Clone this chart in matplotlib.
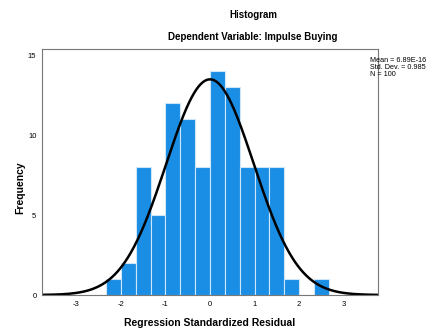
import numpy as np
import matplotlib.pyplot as plt

plt.rcParams['font.family'] = ['Liberation Sans', 'DejaVu Sans']
plt.rcParams['axes.unicode_minus'] = False

# histogram of regression standardized residuals
bin_edges = [-2.333, -2.0, -1.667, -1.333, -1.0, -0.667, -0.333, 0.0,
             0.333, 0.667, 1.0, 1.333, 1.667, 2.0, 2.333, 2.667]
counts = [1, 2, 8, 5, 12, 11, 8, 14, 13, 8, 8, 8, 1, 0, 1]
mean = 6.89e-16
sd = 0.985
n = 100

fig = plt.figure(figsize=(4.35, 3.29), dpi=100)
ax = fig.add_axes([42/435, 1 - 295/329, 336/435, (295-49)/329])

lefts = np.array(bin_edges[:-1])
widths = np.diff(bin_edges)
ax.bar(lefts, counts, width=widths, align='edge', color='#1a8ee4',
       edgecolor='#cfe6f8', linewidth=0.8)

bw = widths.mean()
xs = np.linspace(-3.8, 3.8, 400)
ys = n * bw * np.exp(-0.5 * ((xs - mean) / sd) ** 2) / (sd * np.sqrt(2 * np.pi))
ax.plot(xs, ys, color='black', linewidth=1.8)

ax.set_xlim(-3.77, 3.77)
ax.set_ylim(0, 15.4)
ax.set_xticks([-3, -2, -1, 0, 1, 2, 3])
ax.set_yticks([0, 5, 10, 15])
ax.tick_params(length=0, labelsize=5.5, pad=4)
for s in ax.spines.values():
    s.set_color('#777777')
    s.set_linewidth(0.8)

fig.text(210/435, 1 - 323/329, 'Regression Standardized Residual', ha='center', va='center',
         fontsize=7.5, fontweight='bold')
fig.text(20/435, 1 - 188/329, 'Frequency', ha='center', va='center', rotation=90,
         fontsize=7.5, fontweight='bold')
fig.text(253/435, 1 - 15/329, 'Histogram', ha='center', va='center', fontsize=7, fontweight='bold')
fig.text(253/435, 1 - 37/329, 'Dependent Variable: Impulse Buying', ha='center', va='center',
         fontsize=7, fontweight='bold')

fig.text(370/435, 1 - 57/329, 'Mean = 6.89E-16\nStd. Dev. = 0.985\nN = 100',
         ha='left', va='top', fontsize=5.2, linespacing=1.05)

fig.savefig('out.png', dpi=100)
